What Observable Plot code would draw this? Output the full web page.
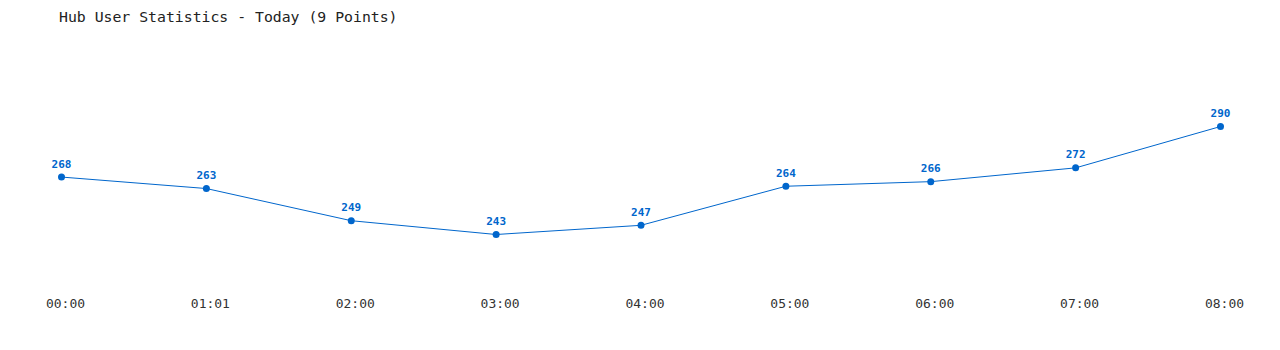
<!DOCTYPE html>
<html>
<head>
<meta charset="utf-8">
<script src="https://cdn.jsdelivr.net/npm/d3@7"></script>
<script src="https://cdn.jsdelivr.net/npm/@observablehq/plot@0.6"></script>
<style>
  html, body { margin: 0; padding: 0; background: #fff; }
  #title { height: 30px; box-sizing: border-box; padding: 8px 0 0 59px; font: 14.8px "DejaVu Sans Mono", "Liberation Mono", monospace; color: #222; line-height: 18px; }
</style>
</head>
<body>
<div id="title">Hub User Statistics - Today (9 Points)</div>
<div id="chart"></div>
<script>
const times = ["00:00", "01:01", "02:00", "03:00", "04:00", "05:00", "06:00", "07:00", "08:00"];
const users = [268, 263, 249, 243, 247, 264, 266, 272, 290];

const data = times.map((t, i) => ({time: t, users: users[i]}));
const blue = "#0066cc";

const chart = Plot.plot({
  width: 1280,
  height: 320,
  marginLeft: 0, marginRight: 0, marginTop: 0, marginBottom: 50,
  style: {background: "#fff", fontFamily: "'DejaVu Sans Mono', 'Liberation Mono', monospace"},
  x: {type: "point", domain: times, range: [61, 1220], padding: 0, round: false},
  y: {domain: [243, 290], range: [204, 96], axis: null},
  marks: [
    Plot.axisX({tickSize: 0, tickPadding: -2, dx: 4, fontSize: 13, color: "#333", label: null}),
    Plot.line(data, {x: "time", y: "users", stroke: blue, strokeWidth: 1}),
    Plot.dot(data, {x: "time", y: "users", fill: blue, r: 3.5, stroke: "none"}),
    Plot.text(data, {x: "time", y: "users", text: d => String(d.users), dy: -13, fill: blue, fontWeight: "bold", fontSize: 11})
  ]
});
document.getElementById("chart").appendChild(chart);
</script>
</body>
</html>
